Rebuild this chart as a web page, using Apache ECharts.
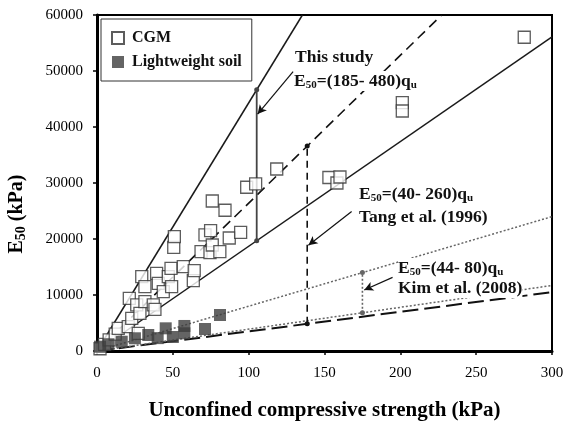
<!DOCTYPE html>
<html>
<head>
<meta charset="utf-8">
<script src="https://cdn.jsdelivr.net/npm/echarts@6/dist/echarts.min.js"></script>
<style>
    html, body { margin: 0; padding: 0; background: #fff; }
    #chart { width: 565px; height: 421px; }
</style>
</head>
<body>
<div id="chart"></div>
<script>
// CGM (hollow squares)
var cgmQu = [2, 5, 8, 12, 14, 20.6, 22.9, 21.3, 26.2, 28.3, 27.2, 29.5, 31.6, 31.6, 37.1, 38.2, 39.3, 40.4, 43.7, 47, 48.8, 49.2,
    50.6, 51, 56.9, 63.5, 64.1, 68.6, 71.2, 74.5, 74.9, 76, 76, 81, 84.4, 87.2, 94.7, 98.7, 104.6, 118.5,
    152.9, 158.2, 160.2, 201.3, 201.3, 281.7];
var cgmE50 = [400, 1200, 2000, 3000, 4050, 4340, 5840, 9410, 8220, 6730, 3160, 13270, 11480, 8800, 8220, 7450, 13870, 12090, 10590, 13270, 14770, 11480,
    18520, 20410, 15060, 12560, 14340, 17740, 20720, 17560, 21490, 18930, 26790, 17740, 25130, 20180, 21200, 29240, 29830, 32500,
    30980, 30000, 31070, 44350, 42860, 56030];
// Lightweight soil (filled squares)
var lwQu = [2, 7.5, 16.3, 25, 33.8, 40, 45.3, 50, 57.6, 57.6, 71.2, 81.1];
var lwE50 = [770, 1200, 1660, 2270, 2860, 2300, 4050, 2500, 4470, 3160, 3930, 6430];

// E50 = k * qu range lines: [low, high]
var thisStudyK = [187, 443];
var tangK = [35, 264];
var kimK = [39, 80];
// qu where each range bar is drawn
var barQu = [105.3, 138.6, 175];

var xMax = 300, yMax = 60000;

var chart = echarts.init(document.getElementById('chart'));

var serif = '"Liberation Serif", "Times New Roman", serif';

var pairs = function(xs, ys) {
    var out = [];
    for (var i = 0; i < xs.length; i++) {
        out.push([xs[i], ys[i]]);
    }
    return out;
};
// line through the origin, clipped at the plot frame
var rayData = function(k) {
    var xEnd = Math.min(xMax, yMax / k);
    return [[0, 0], [xEnd, k * xEnd]];
};
var rayLine = function(k, type, color, width) {
    return {
        type: 'line',
        data: rayData(k),
        symbol: 'none',
        silent: true,
        z: 1,
        lineStyle: { color: color, width: width, type: type }
    };
};
var rangeBar = function(qu, ks, type, color, width) {
    return {
        type: 'line',
        data: [[qu, ks[0] * qu], [qu, ks[1] * qu]],
        symbol: 'circle',
        symbolSize: 5,
        showSymbol: true,
        silent: true,
        z: 3,
        itemStyle: { color: color },
        lineStyle: { color: color, width: width, type: type }
    };
};
var arrow = function(from, to) {
    return {
        type: 'line',
        data: [],
        silent: true,
        markLine: {
            silent: true,
            symbol: ['none', 'arrow'],
            symbolSize: [7, 9],
            label: { show: false },
            lineStyle: { color: '#111', width: 1.2, type: 'solid' },
            data: [[{ coord: from }, { coord: to }]]
        }
    };
};

var rich = {
    m: { fontFamily: serif, fontWeight: 'bold', fontSize: 17.5, lineHeight: 20, fill: '#111' },
    s: { fontFamily: serif, fontWeight: 'bold', fontSize: 11, lineHeight: 10, verticalAlign: 'bottom', fill: '#111' }
};
var note = function(x, y, text) {
    return {
        type: 'text',
        x: x,
        y: y,
        z: 20,
        style: {
            text: text,
            rich: rich,
            backgroundColor: '#fff',
            verticalAlign: 'middle',
            align: 'left'
        }
    };
};

var option = {
    animation: false,
    backgroundColor: '#fff',
    grid: {
        left: 97, right: 13, top: 15, bottom: 70,
        outerBoundsMode: 'none',
        containLabel: false,
        show: true,
        borderColor: '#000',
        borderWidth: 2
    },
    legend: {
        left: 101,
        top: 19,
        orient: 'vertical',
        padding: [11, 10, 11, 10],
        itemGap: 8,
        itemWidth: 12,
        itemHeight: 12,
        borderColor: '#333',
        borderWidth: 1,
        backgroundColor: '#fff',
        data: [
            { name: 'CGM', icon: 'rect' },
            { name: 'Lightweight soil', icon: 'rect' }
        ],
        textStyle: { fontFamily: serif, fontWeight: 'bold', fontSize: 16, color: '#111', padding: [0, 0, 0, 3] }
    },
    xAxis: {
        type: 'value',
        min: 0,
        max: xMax,
        interval: 50,
        name: 'Unconfined compressive strength (kPa)',
        nameLocation: 'middle',
        nameGap: 49,
        nameTextStyle: { fontFamily: serif, fontWeight: 'bold', fontSize: 21, color: '#000' },
        axisLine: { show: true, onZero: false, lineStyle: { color: '#000', width: 3 } },
        axisTick: { show: true, length: 4, lineStyle: { color: '#000', width: 1.5 } },
        axisLabel: { fontFamily: serif, fontSize: 15, color: '#000', margin: 15 },
        splitLine: { show: false }
    },
    yAxis: {
        type: 'value',
        min: 0,
        max: yMax,
        interval: 10000,
        axisLine: { show: true, onZero: false, lineStyle: { color: '#000', width: 3 } },
        axisTick: { show: true, length: 4, lineStyle: { color: '#000', width: 1.5 } },
        axisLabel: {
            fontFamily: serif, fontSize: 15, color: '#000', margin: 14,
            formatter: function(v) { return String(v); }
        },
        splitLine: { show: false }
    },
    graphic: [
        {
            type: 'text',
            x: 17,
            y: 214,
            rotation: Math.PI / 2,
            style: {
                text: '{m|E}{s|50}{m| (kPa)}',
                rich: {
                    m: { fontFamily: serif, fontWeight: 'bold', fontSize: 20, lineHeight: 22, fill: '#000' },
                    s: { fontFamily: serif, fontWeight: 'bold', fontSize: 14, lineHeight: 16, verticalAlign: 'bottom', fill: '#000' }
                },
                align: 'center',
                verticalAlign: 'middle'
            }
        },
        note(295, 57, '{m|This study}'),
        note(294, 81, '{m|E}{s|50}{m|=(185- 480)q}{s|u}'),
        note(359, 194, '{m|E}{s|50}{m|=(40- 260)q}{s|u}'),
        note(359, 217, '{m|Tang et al. (1996)}'),
        note(398, 268, '{m|E}{s|50}{m|=(44- 80)q}{s|u}'),
        note(398, 288, '{m|Kim et al. (2008)}')
    ],
    series: [
        rayLine(thisStudyK[1], 'solid', '#1a1a1a', 1.5),
        rayLine(thisStudyK[0], 'solid', '#1a1a1a', 1.5),
        rayLine(tangK[1], [10, 6], '#111', 1.6),
        rayLine(tangK[0], [16, 6], '#111', 2),
        rayLine(kimK[1], [2, 2], '#666', 1.5),
        rayLine(kimK[0], [2, 2], '#666', 1.5),
        rangeBar(barQu[0], thisStudyK, 'solid', '#444', 1.8),
        rangeBar(barQu[1], tangK, [7, 5], '#111', 1.6),
        rangeBar(barQu[2], kimK, [2, 2], '#666', 1.6),
        arrow([129.3, 49900], [105.9, 42300]),
        arrow([167.9, 24900], [139.4, 18900]),
        arrow([194.9, 13150], [176.2, 10900]),
        {
            name: 'CGM',
            type: 'scatter',
            symbol: 'rect',
            symbolSize: 12,
            z: 5,
            itemStyle: { color: '#fff', borderColor: '#333', borderWidth: 1.3 },
            data: pairs(cgmQu, cgmE50)
        },
        {
            name: 'Lightweight soil',
            type: 'scatter',
            symbol: 'rect',
            symbolSize: 12,
            z: 6,
            itemStyle: { color: '#3d3d3d' },
            data: pairs(lwQu, lwE50)
        }
    ]
};
chart.setOption(option);
</script>
</body>
</html>
